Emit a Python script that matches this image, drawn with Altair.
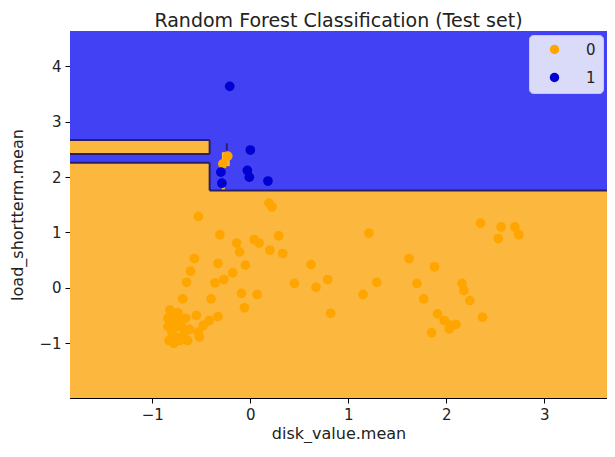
import altair as alt
import pandas as pd

# plot extents (visible part of the meshgrid)
X_MIN, X_MAX = -1.84, 3.64
Y_MIN, Y_MAX = -1.99, 4.64

# decision regions of the classifier (drawn in order)
region_x1 = [X_MIN, X_MIN, X_MIN, X_MIN, -0.29, -0.29]
region_x2 = [X_MAX, X_MAX, -0.415, -0.415, -0.21, -0.26]
region_y1 = [Y_MIN, Y_MIN, Y_MIN, 2.42, 2.20, 1.70]
region_y2 = [Y_MAX, 1.76, 2.26, 2.67, 2.45, 1.89]
region_cls = ["1", "0", "0", "0", "0", "0"]

# region boundary segments
edge_x1 = [X_MIN, X_MIN, X_MIN, -0.415, -0.415, -0.415, -0.24]
edge_x2 = [-0.415, -0.415, -0.415, -0.415, -0.415, X_MAX, -0.24]
edge_y1 = [2.67, 2.42, 2.26, 1.76, 2.42, 1.76, 2.48]
edge_y2 = [2.67, 2.42, 2.26, 2.26, 2.67, 1.76, 2.61]

# test set points, class 0
c0_x = [0.19, 0.22, -0.53, -0.31, 0.04, 0.09, -0.14, -0.11, 0.20, 0.29, 0.33,
        -0.57, -0.33, -0.05, -0.61, -0.18, -0.65, -0.36, -0.27, 0.62, 0.45, 0.67,
        0.79, -0.09, 0.07, -0.40, -0.69, -0.06, 0.82, -0.55, -0.33, -0.42, -0.48,
        -0.53, -0.52,
        -0.82, -0.80, -0.78, -0.84, -0.80, -0.76, -0.83, -0.72, -0.70, -0.66, -0.74,
        -0.68, -0.78, -0.64, -0.62, -0.75, -0.84, -0.72,
        1.21, 2.35, 2.56, 2.53, 2.70, 2.74, 1.62, 1.88, 1.29, 1.15, 1.70, 1.77,
        2.16, 2.18, 2.24, 2.37, 1.91, 1.98, 2.05, 2.10, 2.03, 1.85,
        -0.23, -0.28]
c0_y = [1.53, 1.46, 1.29, 0.96, 0.87, 0.81, 0.81, 0.65, 0.68, 0.94, 0.62,
        0.53, 0.44, 0.41, 0.30, 0.27, 0.10, 0.09, 0.15, 0.42, 0.08, 0.01,
        0.15, -0.10, -0.12, -0.20, -0.20, -0.36, -0.46, -0.50, -0.52, -0.59, -0.68,
        -0.80, -0.89,
        -0.40, -0.50, -0.60, -0.70, -0.80, -0.90, -0.95, -0.95, -0.70, -0.55, -0.45,
        -0.85, -1.00, -0.95, -0.75, -0.70, -0.55, -0.60,
        0.99, 1.17, 1.10, 0.89, 1.10, 0.96, 0.53, 0.38, 0.10, -0.12, 0.08, -0.20,
        0.08, -0.05, -0.23, -0.53, -0.47, -0.59, -0.68, -0.66, -0.74, -0.81,
        2.38, 2.24]

# test set points, class 1
c1_x = [-0.21, 0.00, -0.03, -0.01, 0.18, -0.30, -0.29]
c1_y = [3.64, 2.49, 2.12, 2.00, 1.93, 2.09, 1.89]

regions = pd.DataFrame({"x1": region_x1, "x2": region_x2, "y1": region_y1,
                        "y2": region_y2, "cls": region_cls})
edges = pd.DataFrame({"x1": edge_x1, "x2": edge_x2, "y1": edge_y1, "y2": edge_y2})
points = pd.DataFrame({
    "x": c0_x + c1_x,
    "y": c0_y + c1_y,
    "label": ["0"] * len(c0_x) + ["1"] * len(c1_x),
    "order": [0] * len(c0_x) + [1] * len(c1_x),
})

FONT = "DejaVu Sans"
xscale = alt.Scale(domain=[X_MIN, X_MAX], nice=False, zero=False)
yscale = alt.Scale(domain=[Y_MIN, Y_MAX], nice=False, zero=False)

x_axis = alt.Axis(values=[-1, 0, 1, 2, 3], title="disk_value.mean", grid=False,
                  tickSize=5, tickColor="black", domainColor="black",
                  labelFontSize=15, labelFont=FONT, labelColor="#222",
                  titleFont=FONT, titleFontSize=16, titleFontWeight="normal",
                  titleColor="#222", labelPadding=4, titleBaseline="alphabetic",
                  titleY=40, format="d")
y_axis = alt.Axis(values=[-1, 0, 1, 2, 3, 4], title="load_shortterm.mean", grid=False,
                  tickSize=5, tickColor="black", domainColor="black",
                  labelFontSize=15, labelFont=FONT, labelColor="#222",
                  titleFont=FONT, titleFontSize=16, titleFontWeight="normal",
                  titleColor="#222", labelPadding=4, titleBaseline="alphabetic",
                  titleX=-48, titleY=183.5, titleAngle=-90, format="d")

region_layer = alt.Chart(regions).mark_rect().encode(
    x=alt.X("x1:Q", scale=xscale, axis=x_axis),
    x2="x2:Q",
    y=alt.Y("y1:Q", scale=yscale, axis=y_axis),
    y2="y2:Q",
    fill=alt.Fill("cls:N", scale=alt.Scale(domain=["0", "1"],
                                           range=["#fcb83e", "#4242f4"]),
                  legend=None),
)

edge_layer = alt.Chart(edges).mark_rule(color="#2a1f66", strokeWidth=2).encode(
    x="x1:Q", x2="x2:Q", y="y1:Q", y2="y2:Q"
)

point_layer = alt.Chart(points).mark_circle(size=95, opacity=1).encode(
    x="x:Q",
    y="y:Q",
    order="order:Q",
    color=alt.Color("label:N",
                    scale=alt.Scale(domain=["0", "1"], range=["#ffa500", "#0000d0"]),
                    legend=alt.Legend(title=None, orient="top-right", offset=4,
                                      fillColor="#dadaf9", strokeColor="#c8c8e6",
                                      cornerRadius=4, padding=7, symbolOffset=11,
                                      labelOffset=24, rowPadding=12, labelFontSize=15,
                                      labelFont=FONT, labelColor="#222", symbolSize=90,
                                      symbolType="circle", symbolStrokeWidth=0)),
)

chart = alt.layer(region_layer, edge_layer, point_layer).resolve_scale(
    color="independent", fill="independent"
).properties(
    width=537,
    height=367,
    padding={"left": 62, "top": 23, "right": 0, "bottom": 45},
    autosize=alt.AutoSizeParams(type="none"),
    title=alt.TitleParams("Random Forest Classification (Test set)", fontSize=19,
                          font=FONT, fontWeight="normal", color="#222",
                          anchor="middle", baseline="alphabetic", offset=-15),
).configure_view(stroke="black", strokeWidth=1)

chart.save("out.html", embed_options={"renderer": "svg", "actions": False})
